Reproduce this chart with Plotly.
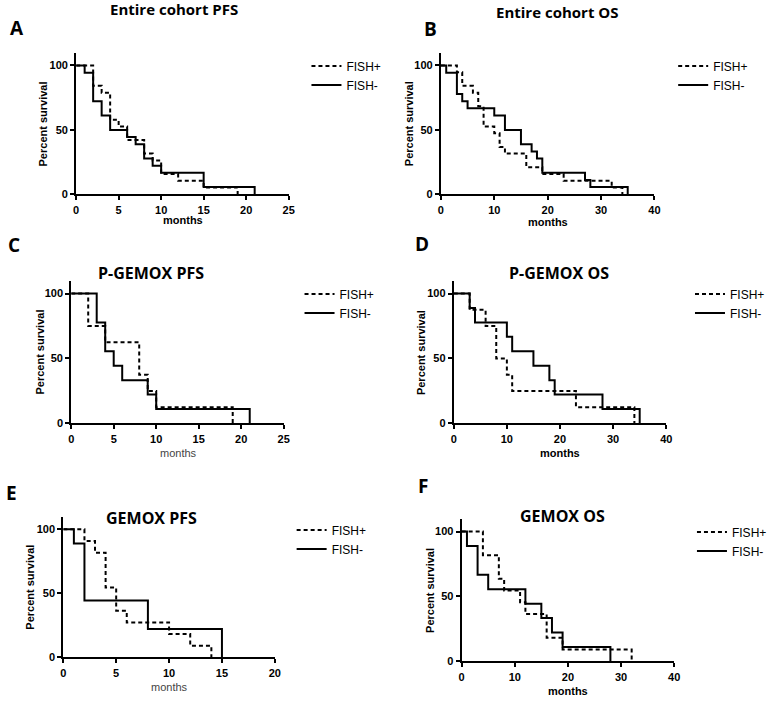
import plotly.graph_objects as go

W, H = 780, 706

# === Kaplan-Meier step data (months, percent survival)
a_pos_t = [0, 2, 3, 4, 5, 6, 8, 9, 10, 12, 15, 19]
a_pos_s = [100, 84.2, 78.9, 57.9, 52.6, 42.1, 31.6, 26.3, 15.8, 10.5, 5.3, 0]
a_neg_t = [0, 1, 2, 3, 4, 6, 7, 8, 9, 10, 15, 21]
a_neg_s = [100, 94.4, 72.2, 61.1, 50, 44.4, 38.9, 27.8, 22.2, 16.7, 5.6, 0]

b_pos_t = [0, 3, 4, 6, 7, 8, 10, 11, 12, 16, 19, 23, 32, 34]
b_pos_s = [100, 94.7, 84.2, 78.9, 68.4, 52.6, 47.4, 36.8, 31.6, 21.1, 15.8, 10.5, 5.3, 0]
b_neg_t = [0, 1, 3, 4, 5, 10, 12, 15, 17, 18, 19, 27, 28, 35]
b_neg_s = [100, 94.4, 77.8, 72.2, 66.7, 61.1, 50, 38.9, 33.3, 27.8, 16.7, 11.1, 5.6, 0]

c_pos_t = [0, 2, 4, 8, 9, 10, 19]
c_pos_s = [100, 75, 62.5, 37.5, 25, 12.5, 0]
c_neg_t = [0, 3, 4, 5, 6, 9, 10, 21]
c_neg_s = [100, 77.8, 55.6, 44.4, 33.3, 22.2, 11.1, 0]

d_pos_t = [0, 3, 6, 8, 10, 11, 23, 34]
d_pos_s = [100, 87.5, 75, 50, 37.5, 25, 12.5, 0]
d_neg_t = [0, 3, 4, 10, 11, 15, 18, 19, 28, 35]
d_neg_s = [100, 88.9, 77.8, 66.7, 55.6, 44.4, 33.3, 22.2, 11.1, 0]

e_pos_t = [0, 2, 3, 4, 5, 6, 10, 12, 14]
e_pos_s = [100, 90.9, 81.8, 54.5, 36.4, 27.3, 18.2, 9.1, 0]
e_neg_t = [0, 1, 2, 8, 15]
e_neg_s = [100, 88.9, 44.4, 22.2, 0]

f_pos_t = [0, 4, 7, 8, 11, 12, 16, 19, 32]
f_pos_s = [100, 81.8, 63.6, 54.5, 45.5, 36.4, 18.2, 9.1, 0]
f_neg_t = [0, 1, 3, 5, 12, 15, 17, 19, 28]
f_neg_s = [100, 88.9, 66.7, 55.6, 44.4, 33.3, 22.2, 11.1, 0]

series_names = ["FISH+", "FISH-"]
panel_letters = ["A", "B", "C", "D", "E", "F"]
panel_titles = ["Entire cohort PFS", "Entire cohort OS", "P-GEMOX PFS",
                "P-GEMOX OS", "GEMOX PFS", "GEMOX OS"]
x_max = [25, 40, 25, 40, 20, 40]
x_step = [5, 10, 5, 10, 5, 10]
y_ticks = [0, 50, 100]

# === Layout in page pixels: plot box (x0, x1, ytop, ybottom)
boxes = [(74, 289, 53, 196), (443, 659, 53, 196),
         (69, 284, 283, 427), (456, 671, 283, 427),
         (61, 275, 521, 663), (464, 679, 523, 667)]
letter_pos = [(14, 28), (432, 29), (11, 247), (424, 246), (9, 497), (425, 490)]
title_pos = [(173, 9), (560, 12), (150, 275), (562, 275), (150, 522), (566, 520)]
title_size = [15, 15, 16, 16, 16, 16]
legend_pos = [(307, 52), (678, 52), (300, 282), (695, 282), (292, 520), (697, 522)]
ylab_pos = [(40, 125), (411, 125), (37, 355), (423, 356), (27, 592), (432, 596)]
xlab_pos = [(182, 222), (551, 224), (178, 457), (563, 457), (168, 693), (572, 697)]
xlab_bold = [True, True, False, True, False, True]

data = [(a_pos_t, a_pos_s, a_neg_t, a_neg_s), (b_pos_t, b_pos_s, b_neg_t, b_neg_s),
        (c_pos_t, c_pos_s, c_neg_t, c_neg_s), (d_pos_t, d_pos_s, d_neg_t, d_neg_s),
        (e_pos_t, e_pos_s, e_neg_t, e_neg_s), (f_pos_t, f_pos_s, f_neg_t, f_neg_s)]


def px(x):
    return x / W


def py(y):
    return 1 - y / H


def label(text, pos, font, angle=0):
    return dict(text=text, x=px(pos[0]), y=py(pos[1]), xref="paper", yref="paper",
                xanchor="center", yanchor="middle", showarrow=False,
                textangle=angle, font=font)


fig = go.Figure()
annotations = []
layout = {}

for i in range(6):
    n = i + 1
    xa = "x" if n == 1 else f"x{n}"
    ya = "y" if n == 1 else f"y{n}"
    lg = "legend" if n == 1 else f"legend{n}"
    pt, ps, nt, ns = data[i]

    fig.add_trace(go.Scatter(x=pt, y=ps, mode="lines", line_shape="hv",
                             line=dict(color="black", width=2, dash="4px,3px"),
                             name=series_names[0], xaxis=xa, yaxis=ya, legend=lg))
    fig.add_trace(go.Scatter(x=nt, y=ns, mode="lines", line_shape="hv",
                             line=dict(color="black", width=2),
                             name=series_names[1], xaxis=xa, yaxis=ya, legend=lg))

    x0, x1, yt, yb = boxes[i]
    axis_common = dict(showline=True, linecolor="black", linewidth=2, ticks="outside",
                       ticklen=4, tickwidth=2, tickcolor="black", showgrid=False,
                       zeroline=False,
                       tickfont=dict(family="Arial", size=11, color="black", weight="bold"))
    layout["xaxis" if n == 1 else f"xaxis{n}"] = dict(
        axis_common, domain=[px(x0), px(x1)], range=[0, x_max[i]],
        tickvals=list(range(0, x_max[i] + 1, x_step[i])),
        anchor=ya)
    layout["yaxis" if n == 1 else f"yaxis{n}"] = dict(
        axis_common, domain=[py(yb), py(yt)], range=[0, 110],
        tickvals=y_ticks, anchor=xa)

    lx, ly = legend_pos[i]
    layout[lg] = dict(x=px(lx), y=py(ly), xanchor="left", yanchor="top",
                      bgcolor="rgba(0,0,0,0)", itemwidth=30, tracegroupgap=0,
                      font=dict(family="Arial", size=12, color="black"))

    annotations.append(label(panel_letters[i], letter_pos[i],
                             dict(family="Open Sans", size=19, color="black", weight="bold")))
    annotations.append(label(panel_titles[i], title_pos[i],
                             dict(family="Open Sans", size=title_size[i], color="black",
                                  weight="bold")))
    annotations.append(label("Percent survival", ylab_pos[i],
                             dict(family="Arial", size=11, color="black", weight="bold"), -90))
    annotations.append(label("months", xlab_pos[i],
                             dict(family="Arial", size=11,
                                  color="black" if xlab_bold[i] else "#444444",
                                  weight="bold" if xlab_bold[i] else "normal")))

fig.update_layout(**layout)
fig.update_layout(
    width=W, height=H,
    margin=dict(l=0, r=0, t=0, b=0),
    paper_bgcolor="white", plot_bgcolor="white",
    annotations=annotations,
)

# drop the default page margin so the figure fills the window
fig.write_html("out.html", config={"displayModeBar": False},
               post_script="document.body.style.margin='0px';")
